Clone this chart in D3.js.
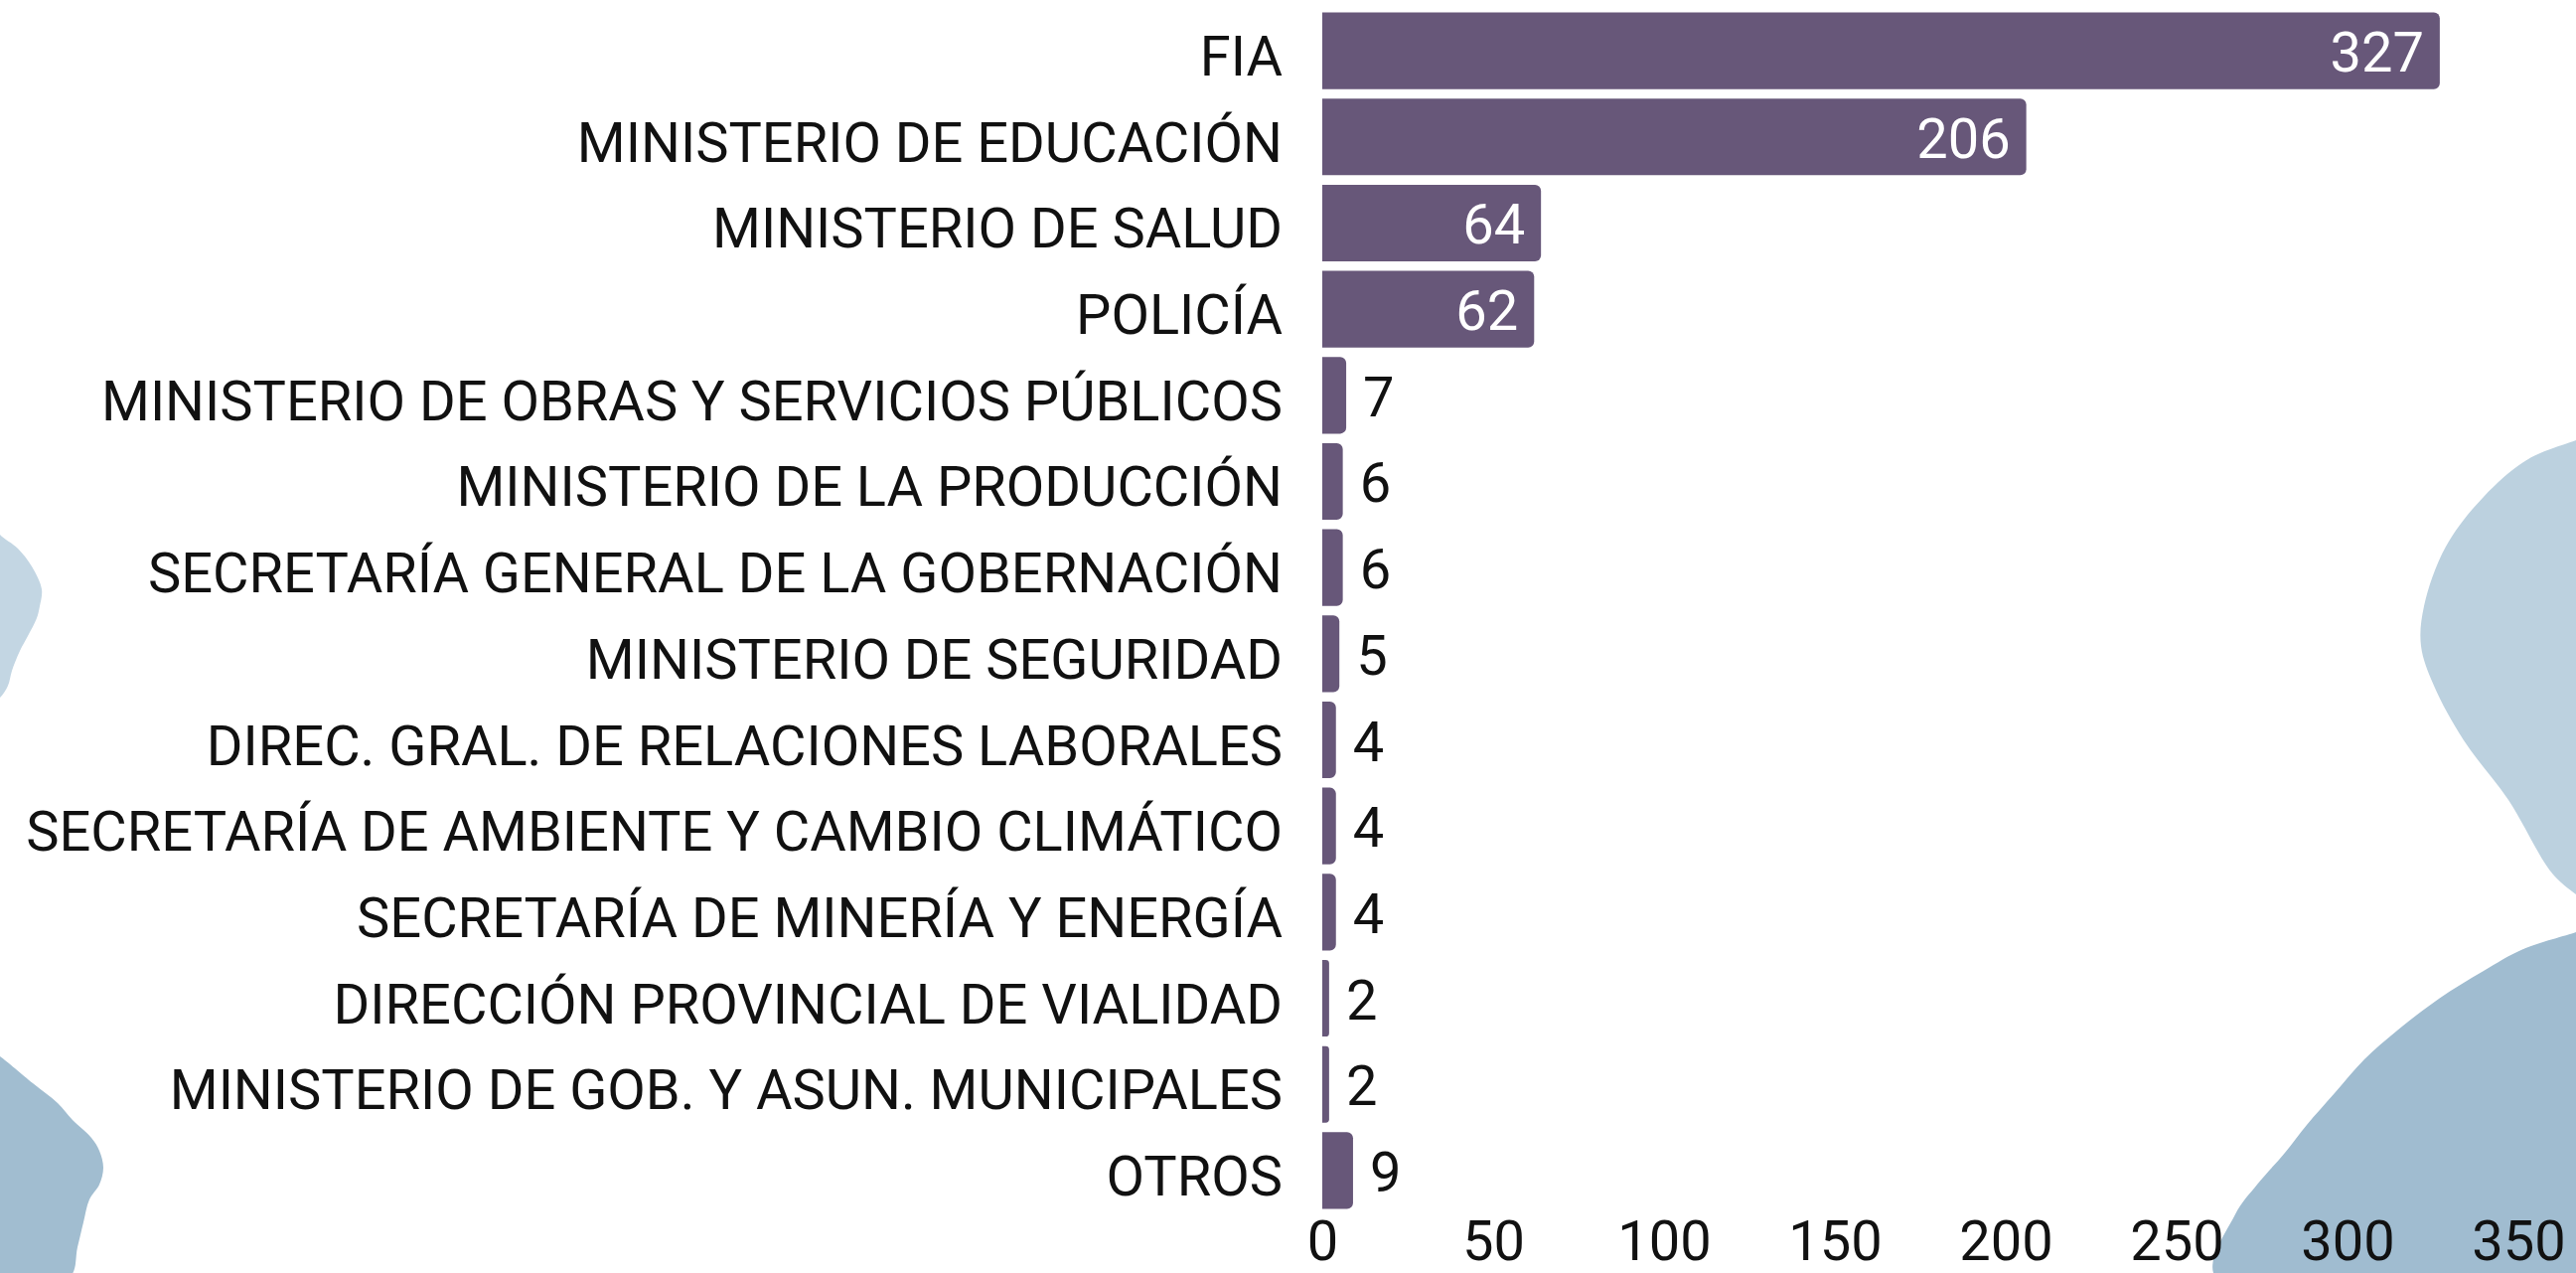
<!DOCTYPE html>
<html>
<head>
<meta charset="utf-8">
<script src="https://cdn.jsdelivr.net/npm/d3@7"></script>
<style>
  html, body { margin: 0; padding: 0; background: #ffffff; }
  svg { display: block; }
  text { font-family: Roboto, "Noto Sans", sans-serif; }
</style>
</head>
<body>
<svg id="chart" width="2593" height="1281"></svg>
<script>
const categories = [
  "FIA",
  "MINISTERIO DE EDUCACIÓN",
  "MINISTERIO DE SALUD",
  "POLICÍA",
  "MINISTERIO DE OBRAS Y SERVICIOS PÚBLICOS",
  "MINISTERIO DE LA PRODUCCIÓN",
  "SECRETARÍA GENERAL DE LA GOBERNACIÓN",
  "MINISTERIO DE SEGURIDAD",
  "DIREC. GRAL. DE RELACIONES LABORALES",
  "SECRETARÍA DE AMBIENTE Y CAMBIO CLIMÁTICO",
  "SECRETARÍA DE MINERÍA Y ENERGÍA",
  "DIRECCIÓN PROVINCIAL DE VIALIDAD",
  "MINISTERIO DE GOB. Y ASUN. MUNICIPALES",
  "OTROS"
];
const values = [327, 206, 64, 62, 7, 6, 6, 5, 4, 4, 4, 2, 2, 9];
const tickValues = [0, 50, 100, 150, 200, 250, 300, 350];

const W = 2593, H = 1281;
const svg = d3.select("#chart");

// decorative watercolor blobs
const blobs = [
  { color: "#c3d6e3", pts: [[-5,530],[0,538],[18,552],[32,570],[42,593],[40,610],[37,622],[28,640],[20,655],[12,675],[8,690],[0,702],[-5,705]] },
  { color: "#a1bdd0", pts: [[-5,1060],[0,1063],[33,1090],[58,1110],[73,1127],[92,1145],[100,1158],[104,1175],[100,1192],[90,1207],[84,1230],[78,1255],[70,1285],[-5,1285]] },
  { color: "#bcd1df", pts: [[2600,440],[2593,443],[2545,462],[2500,500],[2462,550],[2440,610],[2437,650],[2450,690],[2480,745],[2525,805],[2570,880],[2600,905]] },
  { color: "#a0bcd0", pts: [[2600,935],[2593,938],[2540,955],[2500,977],[2455,1005],[2413,1037],[2380,1066],[2350,1100],[2322,1132],[2300,1160],[2272,1192],[2250,1222],[2230,1285],[2600,1285]] }
];
const blobLine = d3.line().curve(d3.curveCatmullRom.alpha(0.5));
svg.append("g").selectAll("path").data(blobs).join("path")
  .attr("d", d => blobLine(d.pts) + "Z")
  .attr("fill", d => d.color);

const x = d3.scaleLinear().domain([0, 350]).range([1331, 2535]);
const y = d3.scaleBand().domain(categories).range([3, 1226]).padding(0.11);

const data = categories.map((c, i) => ({ cat: c, val: values[i] }));
const barColor = "#675779";
const fs = 56;

function barPath(x0, x1, y0, h, r) {
  const w = x1 - x0;
  r = Math.min(r, w / 2, h / 2);
  return `M${x0},${y0}H${x1 - r}A${r},${r} 0 0 1 ${x1},${y0 + r}V${y0 + h - r}A${r},${r} 0 0 1 ${x1 - r},${y0 + h}H${x0}Z`;
}

const g = svg.append("g");
g.selectAll("path.bar").data(data).join("path")
  .attr("class", "bar")
  .attr("d", d => barPath(x(0), x(d.val), y(d.cat), y.bandwidth(), 6))
  .attr("fill", barColor);

// category labels
g.selectAll("text.cat").data(data).join("text")
  .attr("class", "cat")
  .attr("x", x(0) - 40)
  .attr("y", d => y(d.cat) + y.bandwidth() / 2 + 25)
  .attr("text-anchor", "end")
  .attr("font-size", fs)
  .attr("fill", "#111")
  .text(d => d.cat);

// value labels
const inside = d => d.val >= 50;
g.selectAll("text.val").data(data).join("text")
  .attr("class", "val")
  .attr("x", d => inside(d) ? x(d.val) - 16 : x(d.val) + 17)
  .attr("y", d => y(d.cat) + y.bandwidth() / 2 + 21)
  .attr("text-anchor", d => inside(d) ? "end" : "start")
  .attr("font-size", fs)
  .attr("fill", d => inside(d) ? "#ffffff" : "#111")
  .text(d => d.val);

// x axis
const axis = d3.axisBottom(x).tickValues(tickValues).tickSize(0).tickPadding(0);
const ax = svg.append("g").attr("transform", "translate(0,1268)").call(axis);
ax.select(".domain").remove();
ax.selectAll("text")
  .attr("font-size", fs)
  .attr("font-family", "Roboto, sans-serif")
  .attr("fill", "#111")
  .attr("dy", "0")
  .attr("y", 0);
</script>
</body>
</html>
